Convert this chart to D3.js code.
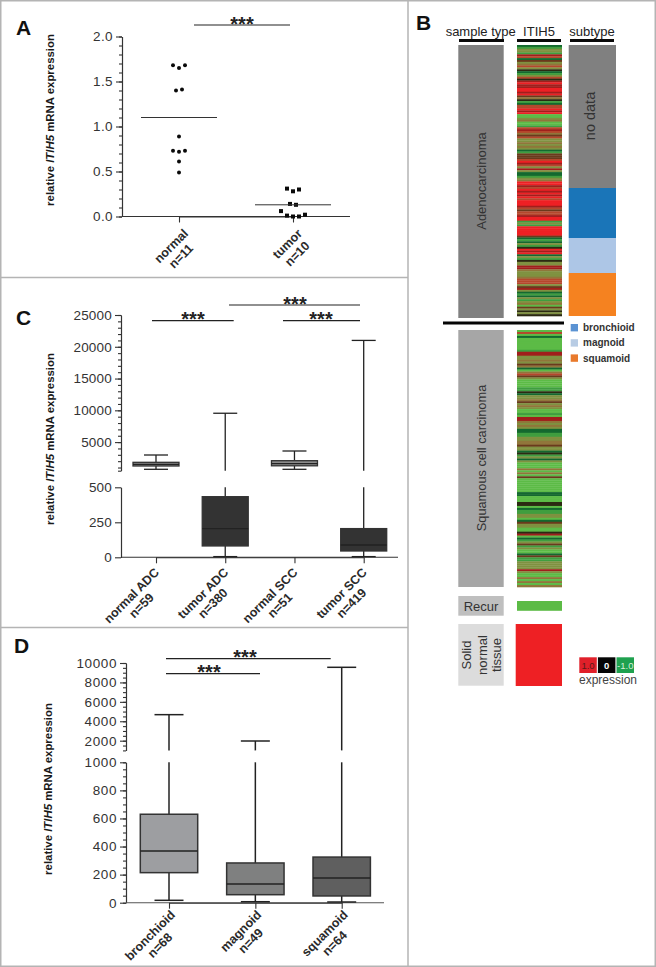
<!DOCTYPE html>
<html>
<head>
<meta charset="utf-8">
<script src="https://cdnjs.cloudflare.com/ajax/libs/d3/7.8.5/d3.min.js"></script>
<style>
  html, body { margin: 0; padding: 0; background: #fff; }
  svg { display: block; }
  text { font-family: "Liberation Sans", Arial, sans-serif; }
</style>
</head>
<body>
<div id="my_dataviz"></div>
<script>
// panel A
var aGroups = ["normal", "tumor"];
var aLabels = ["n=11", "n=10"];
var aNormal = [1.68, 1.65, 1.68, 1.40, 1.41, 0.89, 0.73, 0.72, 0.73, 0.61, 0.49];
var aNormalSlot = [-1, 0, 1, -0.5, 0.5, 0, -1, 0, 1, 0, 0];
var aTumor = [0.31, 0.28, 0.30, 0.14, 0.13, 0.06, 0.01, 0.0, 0.0, 0.02];
var aTumorSlot = [-1, 0, 1, -0.5, 0.5, -2, -1, 0, 1, 2];
var aMeans = [1.10, 0.13];

// panel C
var cGroups = ["normal ADC", "tumor ADC", "normal SCC", "tumor SCC"];
var cLabels = ["n=59", "n=380", "n=51", "n=419"];
var cMax = [2970, 9540, 3600, 21000];
var cQ3 = [1820, 433, 2075, 205];
var cMed = [1500, 205, 1600, 88];
var cQ1 = [1240, 81, 1270, 45];
var cMin = [720, 5, 720, 5];

// panel D
var dGroups = ["bronchioid", "magnoid", "squamoid"];
var dLabels = ["n=68", "n=49", "n=64"];
var dMax = [4680, 1968, 9557];
var dQ3 = [630, 283, 325];
var dMed = [368, 133, 176];
var dQ1 = [214, 57, 48];
var dMin = [17, 7, 5];

// panel B, heatmap rows read top to bottom
// g bright green, m green, d dark green, k black, o olive, b brown olive, n brown, c rust, e dark red, r red
var adcRows = ("dmoomecdnobcokdmoc" + "kereerrer" + "nbkmd" + "ccrer" + "ggobggm" +
  "cecbncoobobodmnnncrecoeoddmob" + "rrecrerercrrrecnccerrmomrrrrrndmdomkrer" +
  "domkooeebooobccconeodmdomobgnokok").split("");
var sccRows = ("gcgdggggggmeeoobonbdgbcnoggggmmkdoobnoboggmgeeboboddmmoobbnoodkmo" +
  "dogggbgbgngggggggddgggkkgdmmoogdnooggkegdmonmoggdnmmooooeoggbgbgb").split("");
var recurRows = ["g"];
var normalRows = ["r"];
var subtypeNames = ["no data", "bronchioid", "magnoid", "squamoid"];
var subtypeCounts = [143, 50, 35, 43];
var legendNames = ["bronchioid", "magnoid", "squamoid"];
var scaleLabels = ["1.0", "0", "-1.0"];

var svg = d3.select("#my_dataviz").append("svg")
  .attr("width", 656)
  .attr("height", 967);

var frame = svg.append("g").attr("stroke", "#b4b4b4").attr("stroke-width", 1.5).attr("fill", "none");
frame.append("rect").attr("x", 0.75).attr("y", 0.75).attr("width", 654.5).attr("height", 965.5);
frame.append("line").attr("x1", 0).attr("x2", 408).attr("y1", 277.5).attr("y2", 277.5);
frame.append("line").attr("x1", 0).attr("x2", 408).attr("y1", 627.5).attr("y2", 627.5);
frame.append("line").attr("x1", 408).attr("x2", 408).attr("y1", 0).attr("y2", 967);

function panelLetter(s, x, y) {
  svg.append("text").attr("x", x).attr("y", y).attr("font-size", 21).attr("font-weight", "bold")
    .attr("fill", "#111").text(s);
}
panelLetter("A", 16, 35);
panelLetter("B", 416, 30);
panelLetter("C", 16, 325);
panelLetter("D", 14, 653);

function yTitle(x, y) {
  var t = svg.append("text")
    .attr("transform", "translate(" + x + "," + y + ") rotate(-90)")
    .attr("text-anchor", "middle").attr("font-size", 11.4).attr("font-weight", "bold").attr("fill", "#1a1a1a");
  t.append("tspan").text("relative ");
  t.append("tspan").attr("font-style", "italic").text("ITIH5");
  t.append("tspan").text(" mRNA expression");
}
yTitle(53.5, 120);
yTitle(53.5, 439);
yTitle(52, 789);

// starX is where the stars sit, they are not always over the middle of the bar
function sigBar(x1, x2, y, starX) {
  svg.append("line").attr("x1", x1).attr("x2", x2).attr("y1", y).attr("y2", y)
    .attr("stroke", "#222").attr("stroke-width", 1.2);
  svg.append("text").attr("x", starX).attr("y", y + 5.5).attr("text-anchor", "middle")
    .attr("font-size", 20).attr("font-weight", "bold").attr("fill", "#222").text("***");
}

function styleAxis(g, size, spacing) {
  g.selectAll("path,line").attr("stroke", "#333").attr("stroke-width", 1.1);
  g.selectAll("text").attr("font-size", size).attr("fill", "#333").attr("letter-spacing", spacing)
    .attr("font-family", '"Liberation Sans", Arial, sans-serif');
}

// y axis with labelled majors and short minors
function yAxis(scale, left, majors, minors, fmt, size, spacing) {
  var g = svg.append("g").attr("transform", "translate(" + left + ",0)");
  g.call(d3.axisLeft(scale).tickValues(majors).tickFormat(fmt).tickSize(6).tickSizeOuter(0));
  styleAxis(g, size, spacing);
  var m = svg.append("g").attr("transform", "translate(" + left + ",0)");
  m.call(d3.axisLeft(scale).tickValues(minors).tickFormat("").tickSize(3).tickSizeOuter(0));
  styleAxis(m, size, spacing);
}

// x axis with two line labels at 45 degrees, right end of the longer line at the tick
function xAxis(scale, baseY, count, names, ns, shiftX, shiftY) {
  var ids = d3.range(count);
  var g = svg.append("g").attr("transform", "translate(0," + baseY + ")");
  g.call(d3.axisBottom(scale).tickValues(ids).tickFormat("").tickSize(6).tickSizeOuter(0));
  styleAxis(g, 12, 0);
  ids.forEach(function(i) {
    var lab = svg.append("g")
      .attr("transform", "translate(" + (scale(i) + shiftX) + "," + (baseY + shiftY) + ") rotate(-45)");
    var t1 = lab.append("text").attr("y", -3).attr("text-anchor", "middle").attr("font-size", 12.5)
      .attr("font-weight", "bold").attr("fill", "#2a2a2a").text(names[i]);
    var t2 = lab.append("text").attr("y", 11).attr("text-anchor", "middle").attr("font-size", 12.5)
      .attr("font-weight", "bold").attr("fill", "#2a2a2a").text(ns[i]);
    var w = Math.max(t1.node().getComputedTextLength(), t2.node().getComputedTextLength());
    t1.attr("x", -w / 2);
    t2.attr("x", -w / 2);
  });
}

//////////////////////////// A ////////////////////////////
var yA = d3.scaleLinear().domain([0, 2]).range([216.5, 36.5]);
var xA = d3.scaleLinear().domain([0, 1]).range([179, 293]);
yAxis(yA, 122, [0, 0.5, 1, 1.5, 2], d3.range(0, 2.01, 0.1), d3.format(".1f"), 13.5, 0.4);
svg.append("line").attr("x1", 122).attr("x2", 350).attr("y1", yA(0)).attr("y2", yA(0))
  .attr("stroke", "#333").attr("stroke-width", 1.1);
xAxis(xA, yA(0), 2, aGroups, aLabels, 12, 20);
svg.selectAll(".dotA").data(aNormal).enter().append("circle")
  .attr("cx", function(d, i) { return xA(0) + aNormalSlot[i] * 6; })
  .attr("cy", function(d) { return yA(d); })
  .attr("r", 2)
  .attr("fill", "#0a0a0a");
svg.selectAll(".squareA").data(aTumor).enter().append("rect")
  .attr("x", function(d, i) { return xA(1) + aTumorSlot[i] * 6 - 2; })
  .attr("y", function(d) { return yA(d) - 2; })
  .attr("width", 4)
  .attr("height", 4)
  .attr("fill", "#0a0a0a");
svg.selectAll(".meanA").data(aMeans).enter().append("line")
  .attr("x1", function(d, i) { return xA(i) - 38; })
  .attr("x2", function(d, i) { return xA(i) + 38; })
  .attr("y1", function(d) { return yA(d); })
  .attr("y2", function(d) { return yA(d); })
  .attr("stroke", "#333").attr("stroke-width", 1);
sigBar(194, 290, 25, 242);

//////////////////////////// box plots with broken axis ////////////////////////////
function brokenBoxes(o) {
  var crossing = o.break;
  function y(v) { return v >= crossing ? o.yTop(v) : o.yLow(v); }
  function seg(i, a, b) {
    // a whisker crossing the break is drawn in both halves
    var parts = (a < crossing && b > crossing) ? [[a, crossing, o.yLow], [crossing, b, o.yTop]]
      : [[a, b, a >= crossing ? o.yTop : o.yLow]];
    parts.forEach(function(p) {
      svg.append("line").attr("x1", o.x(i)).attr("x2", o.x(i)).attr("y1", p[2](p[0])).attr("y2", p[2](p[1]))
        .attr("stroke", "#222").attr("stroke-width", o.weight);
    });
  }
  o.q3.forEach(function(d, i) {
    seg(i, o.q3[i], o.max[i]);
    seg(i, o.min[i], o.q1[i]);
    [o.max[i], o.min[i]].forEach(function(v) {
      svg.append("line").attr("x1", o.x(i) - o.cap).attr("x2", o.x(i) + o.cap).attr("y1", y(v)).attr("y2", y(v))
        .attr("stroke", "#222").attr("stroke-width", o.weight);
    });
    svg.append("rect").attr("x", o.x(i) - o.half).attr("width", o.half * 2)
      .attr("y", y(o.q3[i])).attr("height", y(o.q1[i]) - y(o.q3[i]))
      .attr("fill", o.fills[i]).attr("stroke", "#333").attr("stroke-width", o.weight);
    svg.append("line").attr("x1", o.x(i) - o.half).attr("x2", o.x(i) + o.half).attr("y1", y(o.med[i])).attr("y2", y(o.med[i]))
      .attr("stroke", "#222").attr("stroke-width", o.weight);
  });
}

//////////////////////////// C ////////////////////////////
var yCTop = d3.scaleLinear().domain([500, 25000]).range([470.7, 315]);
var yCLow = d3.scaleLinear().domain([0, 500]).range([557.3, 487.3]);
var xC = d3.scaleLinear().domain([0, 3]).range([156, 363.7]);
yAxis(yCTop, 121, [5000, 10000, 15000, 20000, 25000], [500].concat(d3.range(1000, 25001, 1000)), d3.format("d"), 13.5, 0.2);
yAxis(yCLow, 121, [0, 250, 500], [], d3.format("d"), 13.5, 0.2);
svg.append("line").attr("x1", 121).attr("x2", 398).attr("y1", yCLow(0)).attr("y2", yCLow(0))
  .attr("stroke", "#333").attr("stroke-width", 1.1);
xAxis(xC, yCLow(0), 4, cGroups, cLabels, 6, 18);
brokenBoxes({
  yTop: yCTop, yLow: yCLow, x: xC, break: 500, cap: 12, half: 23, weight: 1.3,
  max: cMax, q3: cQ3, med: cMed, q1: cQ1, min: cMin,
  fills: ["#8c8c8c", "#333333", "#8c8c8c", "#333333"]
});
sigBar(152, 233.7, 320.7, 193);
sigBar(229, 360, 305, 295);
sigBar(283, 360, 320.7, 321);

//////////////////////////// D ////////////////////////////
var yDTop = d3.scaleLinear().domain([1000, 10000]).range([750.4, 663]);
var yDLow = d3.scaleLinear().domain([0, 1000]).range([902.7, 762.3]);
var xD = d3.scaleLinear().domain([0, 2]).range([169, 341.7]);
yAxis(yDTop, 126, [2000, 4000, 6000, 8000, 10000], d3.range(1000, 10001, 500), d3.format("d"), 13.5, 0.6);
yAxis(yDLow, 126, [0, 200, 400, 600, 800, 1000], d3.range(0, 1001, 50), d3.format("d"), 13.5, 0.6);
svg.append("line").attr("x1", 126).attr("x2", 384).attr("y1", yDLow(0)).attr("y2", yDLow(0))
  .attr("stroke", "#555").attr("stroke-width", 1.1);
xAxis(xD, yDLow(0), 3, dGroups, dLabels, 9, 15);
brokenBoxes({
  yTop: yDTop, yLow: yDLow, x: xD, break: 1000, cap: 14.5, half: 28.7, weight: 1.5,
  max: dMax, q3: dQ3, med: dMed, q1: dQ1, min: dMin,
  fills: ["#9d9ea1", "#7f8080", "#5f5f5f"]
});
sigBar(166, 330.7, 658.7, 245);
sigBar(166, 260, 673.7, 209);

//////////////////////////// B ////////////////////////////
var heatColor = d3.scaleOrdinal()
  .domain(["g", "m", "d", "k", "o", "b", "n", "c", "e", "r"])
  .range(["#5cbb46", "#3f9e3f", "#14692f", "#2c2a12", "#7f9140", "#90763a", "#6a3a1c", "#b5472c", "#a01f1c", "#ee2024"]);

function heatStrip(rows, x0, x1, y0, y1) {
  var y = d3.scaleBand().domain(d3.range(rows.length)).range([y0, y1]);
  svg.append("g").selectAll("rect").data(rows).enter().append("rect")
    .attr("x", x0)
    .attr("width", x1 - x0)
    .attr("y", function(d, i) { return y(i); })
    .attr("height", y.bandwidth() + 0.3)
    .attr("fill", function(d) { return heatColor(d); });
}
heatStrip(adcRows, 517, 562, 45, 316);
heatStrip(sccRows, 517, 562, 330, 587);
heatStrip(recurRows, 517, 562, 601, 610.5);
heatStrip(normalRows, 515.7, 562, 624, 685.7);

function block(x0, x1, y0, y1, fill) {
  svg.append("rect").attr("x", x0).attr("width", x1 - x0).attr("y", y0).attr("height", y1 - y0).attr("fill", fill);
}
function upText(s, x, y, size) {
  svg.append("text").attr("transform", "translate(" + x + "," + y + ") rotate(-90)")
    .attr("text-anchor", "middle").attr("font-size", size).attr("fill", "#333").text(s);
}
[["sample type", 480.7, 459, 504], ["ITIH5", 539, 517, 561], ["subtype", 592, 570, 614]].forEach(function(h) {
  svg.append("text").attr("x", h[1]).attr("y", 36).attr("text-anchor", "middle").attr("font-size", 13)
    .attr("fill", "#222").text(h[0]);
  svg.append("line").attr("x1", h[2]).attr("x2", h[3]).attr("y1", 40.5).attr("y2", 40.5)
    .attr("stroke", "#0a0a0a").attr("stroke-width", 3);
});

block(458.3, 503.7, 45, 318, "#808080");
upText("Adenocarcinoma", 485.5, 181, 13);
block(458.3, 503.7, 330, 587, "#a6a6a6");
upText("Squamous cell carcinoma", 485.5, 458, 12.8);
block(458.3, 503.7, 596, 615.7, "#bfbfbf");
svg.append("text").attr("x", 481).attr("y", 610.5).attr("text-anchor", "middle").attr("font-size", 13)
  .attr("fill", "#333").text("Recur");
block(458.3, 503.7, 624, 685.7, "#dcdcdc");
upText("Solid", 471, 655, 13);
upText("normal", 486.5, 655, 13);
upText("tissue", 501, 655, 13);

svg.append("line").attr("x1", 443).attr("x2", 564).attr("y1", 323).attr("y2", 323)
  .attr("stroke", "#050505").attr("stroke-width", 3);

// subtype column, stacked from sample counts
var subtypeColor = d3.scaleOrdinal().domain(subtypeNames).range(["#808080", "#1a75b8", "#adc6e6", "#f58220"]);
var stackY = d3.scaleLinear().domain([0, d3.sum(subtypeCounts)]).range([45, 316]);
var running = 0;
subtypeNames.forEach(function(n, i) {
  block(568.7, 616, stackY(running), stackY(running + subtypeCounts[i]), subtypeColor(n));
  running += subtypeCounts[i];
});
upText("no data", 595, 116, 14.5);

var legendColor = d3.scaleOrdinal().domain(legendNames).range(["#5b93d3", "#b8cce4", "#e97a2c"]);
legendNames.forEach(function(n, i) {
  var y = 327.7 + i * 15.2;
  block(570.7, 578, y - 3.7, y + 3.7, legendColor(n));
  svg.append("text").attr("x", 583).attr("y", y + 3.5).attr("font-size", 10).attr("font-weight", "bold")
    .attr("fill", "#333").text(n);
});

var scaleX = d3.scaleBand().domain(scaleLabels).range([579.3, 634]).paddingInner(0.06);
var scaleFill = d3.scaleOrdinal().domain(scaleLabels).range(["#e0202a", "#050505", "#1fa14f"]);
var scaleInk = d3.scaleOrdinal().domain(scaleLabels).range(["#5a1a1a", "#ffffff", "#d8efd8"]);
scaleLabels.forEach(function(s) {
  block(scaleX(s), scaleX(s) + scaleX.bandwidth(), 657.3, 673, scaleFill(s));
  svg.append("text").attr("x", scaleX(s) + scaleX.bandwidth() / 2).attr("y", 668.5).attr("text-anchor", "middle")
    .attr("font-size", 9.5).attr("font-weight", s === "0" ? "bold" : "normal").attr("fill", scaleInk(s)).text(s);
});
svg.append("text").attr("x", 608).attr("y", 684).attr("text-anchor", "middle").attr("font-size", 12)
  .attr("fill", "#444").text("expression");
</script>
</body>
</html>
